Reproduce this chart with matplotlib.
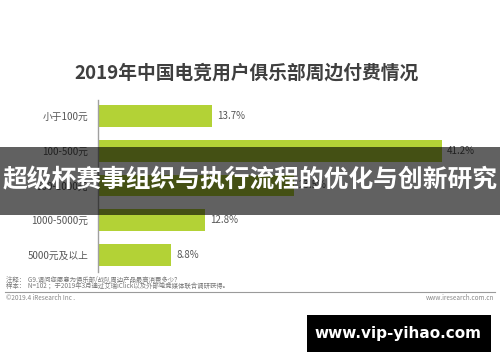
import matplotlib
matplotlib.use("Agg")
import matplotlib.pyplot as plt
from matplotlib.patches import Rectangle

plt.rcParams['font.family'] = ['Noto Sans CJK SC', 'DejaVu Sans']

categories = ["小于100元", "100-500元", "500-1000元", "1000-5000元", "5000元及以上"]
values = [13.7, 41.2, 23.5, 12.8, 8.8]
value_labels = ["13.7%", "41.2%", "23.5%", "12.8%", "8.8%"]

title = "2019年中国电竞用户俱乐部周边付费情况"
banner = "超级杯赛事组织与执行流程的优化与创新研究"
note1 = "注释：  G9.请问您愿意为俱乐部/战队周边产品最高消费多少？"
note2 = "样本：  N=102 ；于2019年3月通过艾瑞iClick以及外部电竞媒体联合调研获得。"
copyright_txt = "©2019.4 iResearch Inc ."
site_txt = "www.iresearch.com.cn"
watermark = "www.vip-yihao.com"

W, H = 500, 362
fig = plt.figure(figsize=(W / 100, H / 100), dpi=100)
fig.patch.set_facecolor('white')

def fx(px):
    return px / W

def fy(py):
    return 1 - py / H

ax = fig.add_axes([fx(98), fy(272), fx(392), (272 - 100) / H])
ypos = list(range(len(categories)))
ax.barh(ypos, values, height=0.63, color='#b3d236', zorder=2)
ax.set_xlim(0, 47)
ax.set_ylim(4.49, -0.46)
for s in ['top', 'right', 'bottom']:
    ax.spines[s].set_visible(False)
ax.spines['left'].set_color('#a0a0a0')
ax.spines['left'].set_linewidth(1.0)
ax.set_xticks([])
ax.set_yticks(ypos)
ax.set_yticklabels(categories, fontsize=7, color='#555555')
ax.tick_params(axis='y', length=0, pad=7)
for y, v, lab in zip(ypos, values, value_labels):
    ax.text(v + 0.6, y, lab, va='center', ha='left', fontsize=7, color='#555555')

fig.text(0.494, fy(73), title, ha='center', va='center', fontsize=13.5,
         fontweight='bold', color='#3f3f3f')

# footer
fig.text(fx(6), fy(279.5), note1, ha='left', va='center', fontsize=4.6, color='#777777')
fig.text(fx(6), fy(286), note2, ha='left', va='center', fontsize=4.6, color='#777777')
fig.add_artist(plt.Line2D([fx(5), fx(495)], [fy(291.5), fy(291.5)], color='#9a9a9a', lw=0.8))
fig.text(fx(6), fy(297.5), copyright_txt, ha='left', va='center', fontsize=4.6, color='#888888')
fig.text(fx(494), fy(297.5), site_txt, ha='right', va='center', fontsize=4.6, color='#888888')

# banner overlay
fig.add_artist(Rectangle((0, fy(215)), 1, (215 - 147) / H, transform=fig.transFigure,
                         facecolor='#000000', alpha=0.62, edgecolor='none', zorder=10))
fig.text(0.5, fy(181), banner, ha='center', va='center', fontsize=17.8,
         fontweight='bold', color='white', zorder=11)

# watermark
fig.add_artist(Rectangle((fx(307), fy(352)), fx(184), (352 - 315) / H, transform=fig.transFigure,
                         facecolor='black', edgecolor='none', zorder=10))
fig.text(fx(398), fy(333.5), watermark, ha='center', va='center', fontsize=11,
         fontweight='bold', color='white', family=['DejaVu Sans'], zorder=11)

fig.savefig('out.png', dpi=100, facecolor='white')
